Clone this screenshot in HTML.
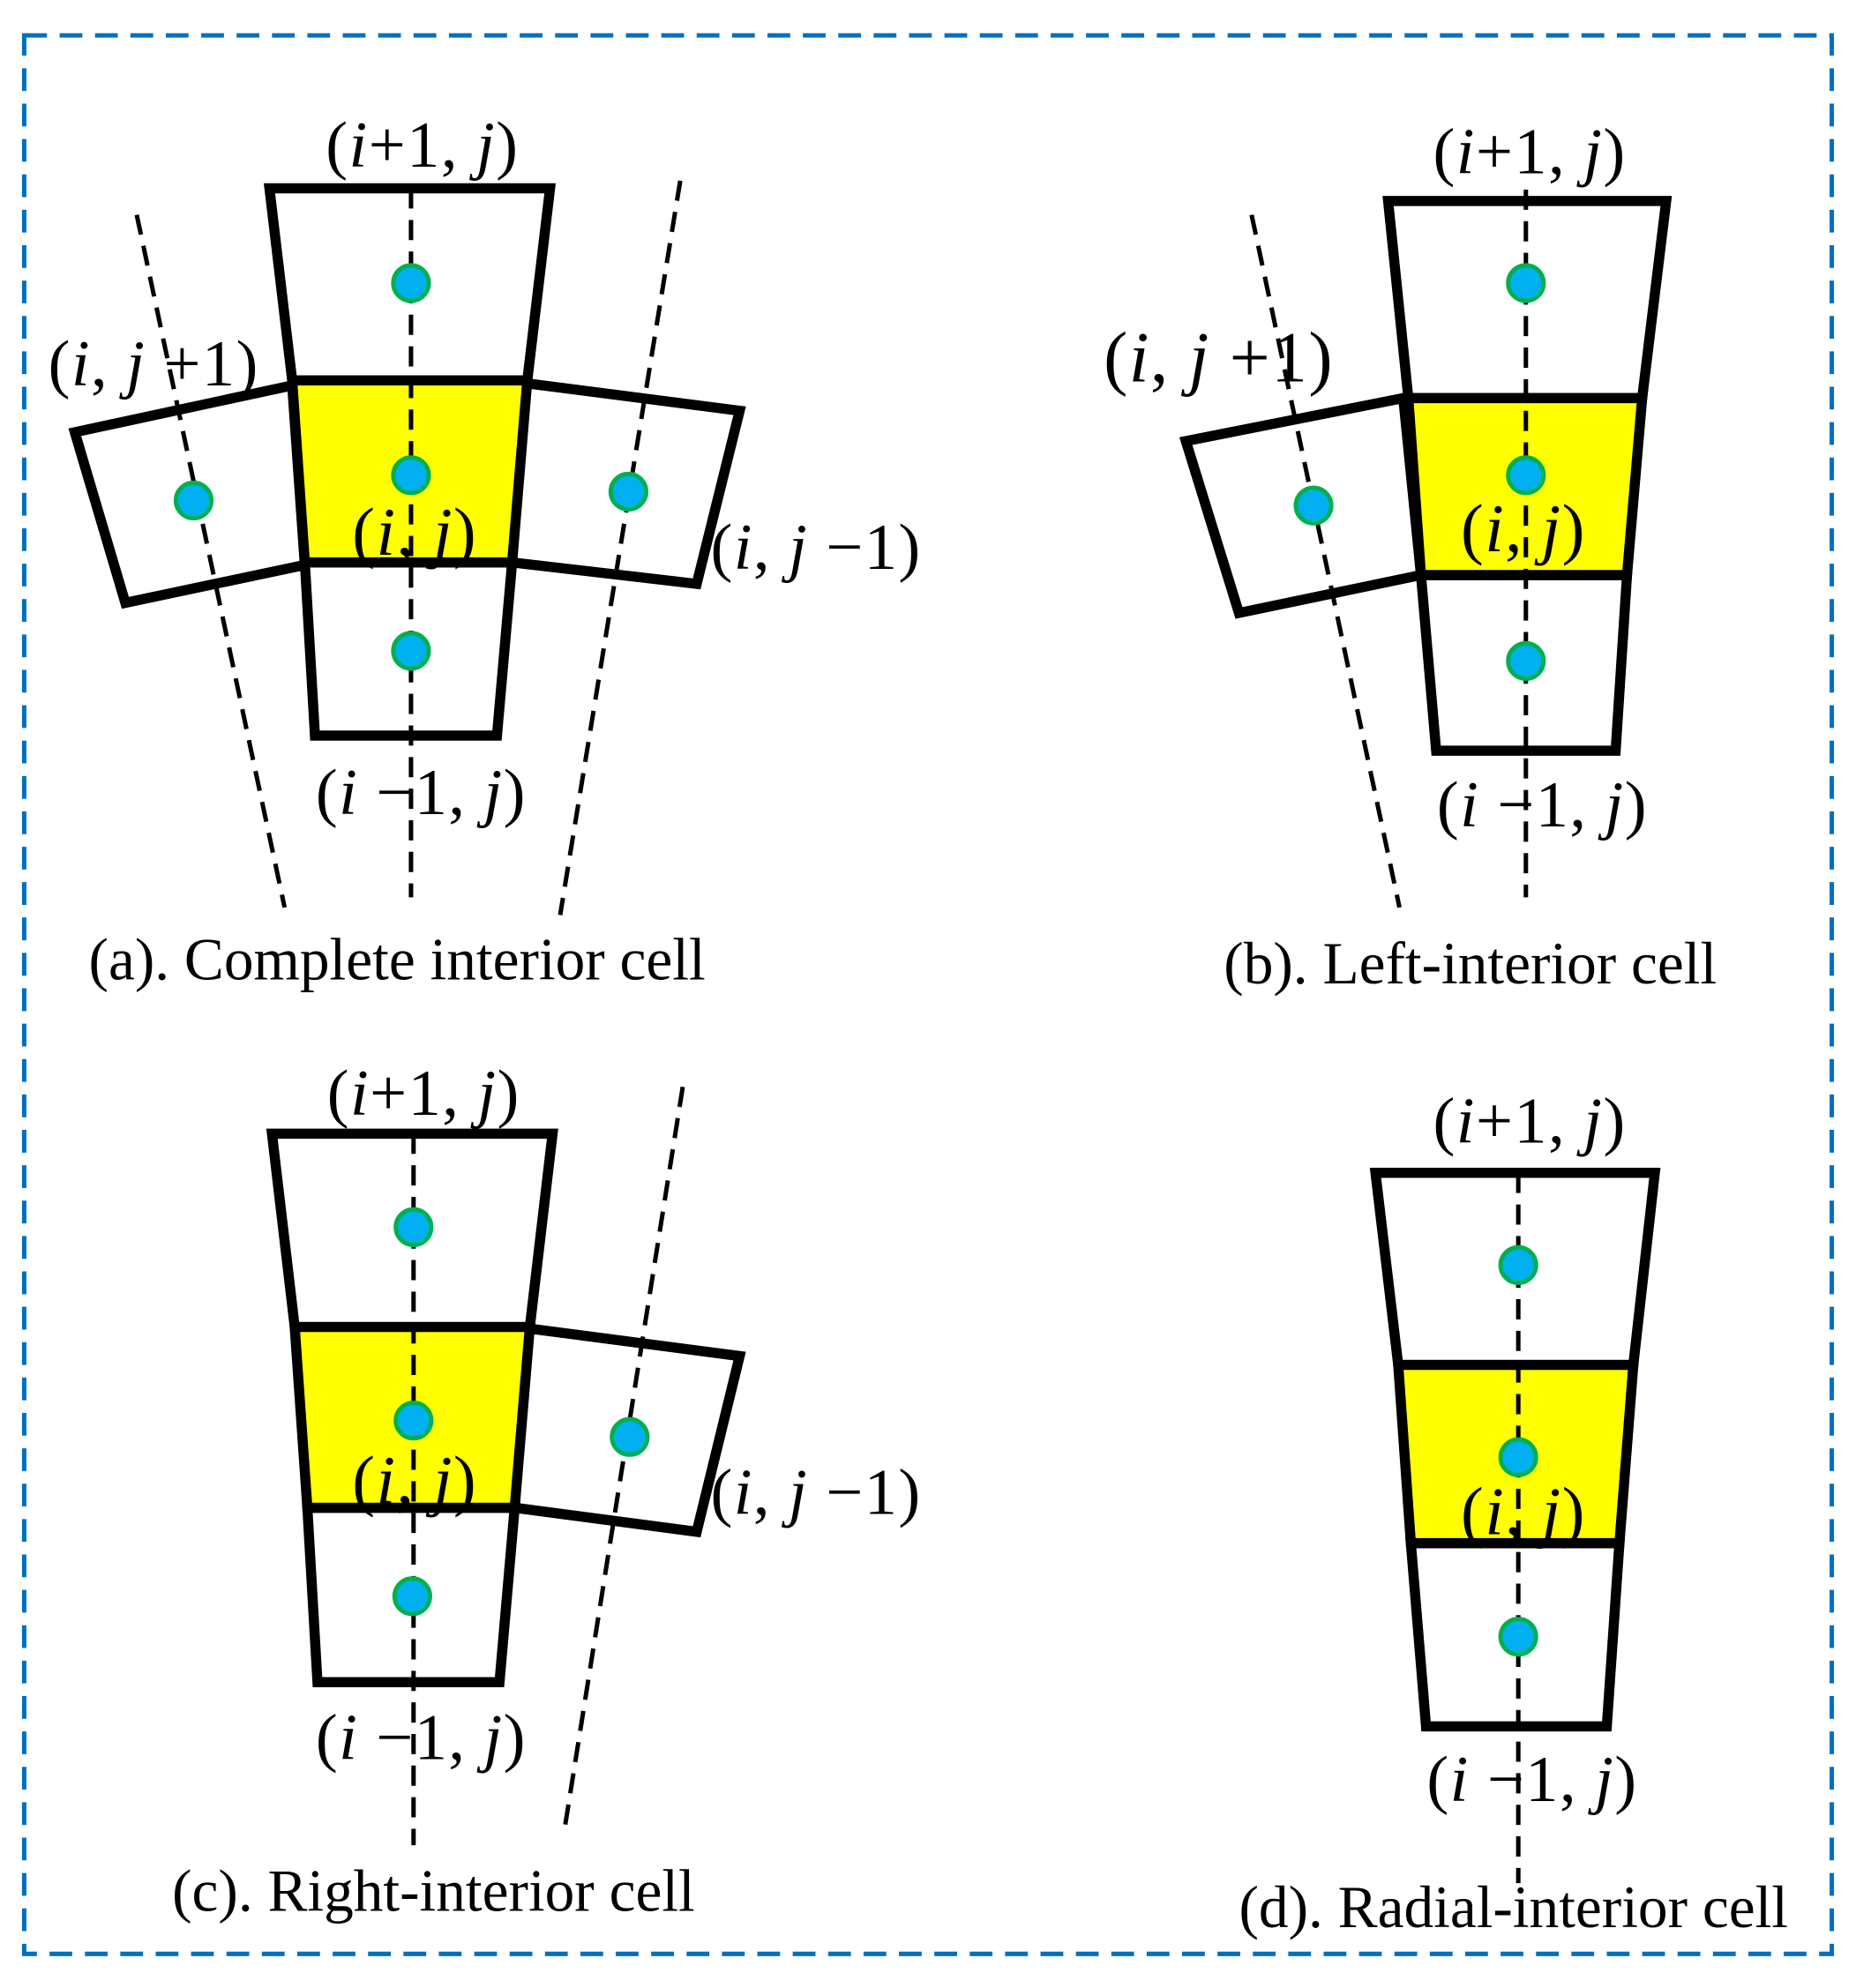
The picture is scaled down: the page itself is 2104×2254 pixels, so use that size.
<!DOCTYPE html>
<html><head><meta charset="utf-8"><style>
html,body{margin:0;padding:0;background:#fff;}
svg{display:block;}
text{font-family:"Liberation Serif",serif;fill:#000;}
.l{font-size:52px;letter-spacing:1px;}
.c{font-size:47px;}
.q{fill:#fff;stroke:#000;stroke-width:8;stroke-linejoin:miter;}
.y{fill:#ffff00;stroke:#000;stroke-width:8;}
.d{stroke:#000;stroke-width:3.5;stroke-dasharray:16 9;fill:none;}
.p{fill:#00b0f0;stroke:#00b050;stroke-width:3.5;}
.ij{font-size:54px;}
</style></head><body>
<svg width="2104" height="2254" viewBox="0 0 1468 1573" xmlns="http://www.w3.org/2000/svg">
<rect x="19" y="28" width="1430" height="1518" fill="none" stroke="#0070c0" stroke-width="3.5" stroke-dasharray="18 10"/>

<!-- (a) -->
<polygon class="q" points="213,149 435,149 417,301 231,301"/>
<polygon class="q" points="59,342 231,305 241,447 99,477"/>
<polygon class="q" points="414,303 585,325 551,462 405,445"/>
<polygon class="q" points="241,445 405,445 393,582 249,582"/>
<polygon class="y" points="231,301 417,301 405,445 241,445"/>
<line class="d" x1="325" y1="149" x2="325" y2="710"/>
<line class="d" x1="108" y1="170" x2="225" y2="718"/>
<line class="d" x1="538" y1="143" x2="443" y2="724"/>
<circle class="p" cx="325" cy="224" r="14"/><circle class="p" cx="325" cy="376" r="14"/><circle class="p" cx="325" cy="515" r="14"/><circle class="p" cx="153" cy="396" r="14"/><circle class="p" cx="497" cy="389" r="14"/>
<text class="l" x="334" y="132" text-anchor="middle">(<tspan font-style="italic">i</tspan>+1, <tspan font-style="italic">j</tspan>)</text>
<text class="l" x="38" y="305">(<tspan font-style="italic">i</tspan>, <tspan font-style="italic">j</tspan> +1)</text>
<text class="l ij" x="328" y="439" text-anchor="middle">(<tspan font-style="italic">i</tspan>, <tspan font-style="italic">j</tspan>)</text>
<text class="l" x="562" y="450">(<tspan font-style="italic">i</tspan>, <tspan font-style="italic">j</tspan> −1)</text>
<text class="l" x="333" y="644" text-anchor="middle">(<tspan font-style="italic">i</tspan> −1, <tspan font-style="italic">j</tspan>)</text>
<text class="c" x="70" y="775">(a). Complete interior cell</text>

<!-- (b) -->
<polygon class="q" points="1098,159 1318,159 1299,315 1114,315"/>
<polygon class="q" points="938,349 1110,315 1124,455 980,485"/>
<polygon class="q" points="1124,455 1287,455 1278,594 1136,594"/>
<polygon class="y" points="1114,315 1299,315 1287,455 1124,455"/>
<line class="d" x1="1207" y1="150" x2="1207" y2="710"/>
<line class="d" x1="990" y1="170" x2="1107" y2="718"/>
<circle class="p" cx="1207" cy="224" r="14"/><circle class="p" cx="1207" cy="376" r="14"/><circle class="p" cx="1207" cy="523" r="14"/><circle class="p" cx="1039" cy="400" r="14"/>
<text class="l" x="1210" y="137" text-anchor="middle">(<tspan font-style="italic">i</tspan>+1, <tspan font-style="italic">j</tspan>)</text>
<text class="l" x="873" y="302" style="font-size:57px">(<tspan font-style="italic">i</tspan>, <tspan font-style="italic">j</tspan> +1)</text>
<text class="l ij" x="1205" y="436" text-anchor="middle">(<tspan font-style="italic">i</tspan>, <tspan font-style="italic">j</tspan>)</text>
<text class="l" x="1220" y="654" text-anchor="middle">(<tspan font-style="italic">i</tspan> −1, <tspan font-style="italic">j</tspan>)</text>
<text class="c" x="968" y="778">(b). Left-interior cell</text>

<!-- (c) -->
<polygon class="q" points="215,897 437,897 419,1050 233,1050"/>
<polygon class="q" points="417,1051 585,1073 551,1212 407,1193"/>
<polygon class="q" points="243,1193 407,1193 395,1331 251,1331"/>
<polygon class="y" points="233,1050 419,1050 407,1193 243,1193"/>
<line class="d" x1="327" y1="897" x2="327" y2="1460"/>
<line class="d" x1="540" y1="860" x2="447" y2="1444"/>
<circle class="p" cx="327" cy="971" r="14"/><circle class="p" cx="327" cy="1124" r="14"/><circle class="p" cx="326" cy="1263" r="14"/><circle class="p" cx="498" cy="1137" r="14"/>
<text class="l" x="335" y="882" text-anchor="middle">(<tspan font-style="italic">i</tspan>+1, <tspan font-style="italic">j</tspan>)</text>
<text class="l ij" x="328" y="1189" text-anchor="middle">(<tspan font-style="italic">i</tspan>, <tspan font-style="italic">j</tspan>)</text>
<text class="l" x="562" y="1198">(<tspan font-style="italic">i</tspan>, <tspan font-style="italic">j</tspan> −1)</text>
<text class="l" x="333" y="1392" text-anchor="middle">(<tspan font-style="italic">i</tspan> −1, <tspan font-style="italic">j</tspan>)</text>
<text class="c" x="136" y="1512">(c). Right-interior cell</text>

<!-- (d) -->
<polygon class="q" points="1088,928 1309,928 1292,1080 1106,1080"/>
<polygon class="q" points="1116,1221 1281,1221 1271,1366 1128,1366"/>
<polygon class="y" points="1106,1080 1292,1080 1281,1221 1116,1221"/>
<line class="d" x1="1201" y1="928" x2="1201" y2="1490"/>
<circle class="p" cx="1201" cy="1001" r="14"/><circle class="p" cx="1201" cy="1153" r="14"/><circle class="p" cx="1201" cy="1295" r="14"/>
<text class="l" x="1210" y="904" text-anchor="middle">(<tspan font-style="italic">i</tspan>+1, <tspan font-style="italic">j</tspan>)</text>
<text class="l ij" x="1205" y="1214" text-anchor="middle">(<tspan font-style="italic">i</tspan>, <tspan font-style="italic">j</tspan>)</text>
<text class="l" x="1212" y="1425" text-anchor="middle">(<tspan font-style="italic">i</tspan> −1, <tspan font-style="italic">j</tspan>)</text>
<text class="c" x="980" y="1525">(d). Radial-interior cell</text>
</svg>
</body></html>
